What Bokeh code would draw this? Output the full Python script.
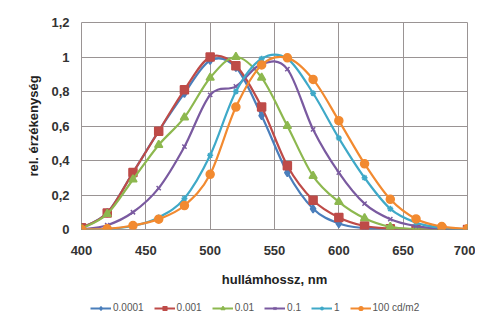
import numpy as np
from bokeh.plotting import figure
from bokeh.layouts import column
from bokeh.models import Legend, LegendItem, FixedTicker, ColumnDataSource
from bokeh.embed import file_html
from bokeh.resources import INLINE

# ---- data ----
wavelength = [400, 420, 440, 460, 480, 500, 520, 540, 560, 580, 600, 620, 640, 660, 680, 700]
s_00001 = [0.01, 0.097, 0.33, 0.57, 0.79, 0.98, 0.94, 0.66, 0.33, 0.12, 0.035, 0.008, 0.002, 0.0, 0.0, 0.0]
s_0001 = [0.01, 0.095, 0.33, 0.57, 0.81, 1.0, 0.95, 0.71, 0.37, 0.17, 0.07, 0.02, 0.005, 0.001, 0.0, 0.0]
s_001 = [0.005, 0.09, 0.29, 0.49, 0.65, 0.88, 1.0, 0.88, 0.60, 0.31, 0.16, 0.065, 0.015, 0.003, 0.0, 0.0]
s_01 = [0.0, 0.025, 0.10, 0.24, 0.48, 0.78, 0.83, 0.96, 0.93, 0.58, 0.33, 0.15, 0.06, 0.02, 0.005, 0.0]
s_1 = [0.0, 0.003, 0.02, 0.07, 0.18, 0.43, 0.80, 0.99, 0.99, 0.79, 0.53, 0.30, 0.12, 0.04, 0.01, 0.002]
s_100 = [0.0, 0.004, 0.023, 0.06, 0.139, 0.32, 0.71, 0.954, 0.995, 0.87, 0.631, 0.381, 0.175, 0.061, 0.017, 0.004]

series_names = ["0.0001", "0.001", "0.01", "0.1", "1", "100 cd/m2"]
series_values = [s_00001, s_0001, s_001, s_01, s_1, s_100]
colors = ["#4a7ebb", "#be4b48", "#8db84f", "#7a5aa0", "#3fa9c8", "#f28a30"]
markers = ["diamond", "square", "triangle", "x", "asterisk", "circle"]
marker_sizes = [8, 8, 8, 6, 6, 8]

x_ticks = [400, 450, 500, 550, 600, 650, 700]
y_ticks = [0, 0.2, 0.4, 0.6, 0.8, 1.0, 1.2]
y_tick_labels = ["0", "0,2", "0,4", "0,6", "0,8", "1", "1,2"]

FONT = "Liberation Sans"
GRID = "#9a9494"


def smooth_segments(xs, ys):
    """Bezier control points for a smoothed line through the data points (rendering only)."""
    x = np.asarray(xs, dtype=float)
    y = np.asarray(ys, dtype=float)
    xp = np.concatenate([[x[0]], x, [x[-1]]])
    yp = np.concatenate([[y[0]], y, [y[-1]]])
    n = len(x)
    i = np.arange(n - 1)
    return dict(
        x0=x[:-1], y0=y[:-1], x1=x[1:], y1=y[1:],
        cx0=x[:-1] + (xp[i + 2] - xp[i]) / 6.0,
        cy0=y[:-1] + (yp[i + 2] - yp[i]) / 6.0,
        cx1=x[1:] - (xp[i + 3] - xp[i + 1]) / 6.0,
        cy1=y[1:] - (yp[i + 3] - yp[i + 1]) / 6.0,
    )


p = figure(width=475, height=290, x_range=(400, 700), y_range=(0, 1.2),
           output_backend="svg", toolbar_location=None,
           min_border_left=81, min_border_right=8, min_border_top=22, min_border_bottom=61)
p.background_fill_color = "white"
p.border_fill_color = "white"
p.outline_line_color = GRID
p.outline_line_width = 1

p.xaxis.ticker = FixedTicker(ticks=x_ticks)
p.yaxis.ticker = FixedTicker(ticks=y_ticks)
p.yaxis.major_label_overrides = {t: l for t, l in zip(y_ticks, y_tick_labels)}

for ax in (p.xaxis[0], p.yaxis[0]):
    ax.axis_line_color = None
    ax.major_tick_line_color = None
    ax.minor_tick_line_color = None
    ax.major_tick_out = 0
    ax.major_tick_in = 0
    ax.major_label_text_font = FONT
    ax.major_label_text_font_style = "bold"
    ax.major_label_text_font_size = "13px"
    ax.major_label_text_color = "#333333"
    ax.axis_label_text_font = FONT
    ax.axis_label_text_font_style = "bold"
    ax.axis_label_text_font_size = "13px"
    ax.axis_label_text_color = "#222222"

p.xaxis.axis_label = "hullámhossz, nm"
p.yaxis.axis_label = "rel. érzékenység"
p.xaxis.major_label_standoff = 16
p.xaxis.axis_label_standoff = 14
p.yaxis.major_label_standoff = 12
p.yaxis.axis_label_standoff = 7

p.xgrid.grid_line_color = GRID
p.ygrid.grid_line_color = GRID
p.xgrid.grid_line_width = 1
p.ygrid.grid_line_width = 1

for vals, c, m, ms in zip(series_values, colors, markers, marker_sizes):
    src = ColumnDataSource(smooth_segments(wavelength, vals))
    p.bezier(x0="x0", y0="y0", x1="x1", y1="y1", cx0="cx0", cy0="cy0", cx1="cx1", cy1="cy1",
             source=src, line_color=c, line_width=2.2)
    p.scatter(wavelength, vals, marker=m, size=ms, fill_color=c, line_color=c, line_width=1.5)

# ---- legend strip below the chart (its series lie outside this strip's visible range) ----
lg = figure(width=475, height=24, x_range=(0, 1), y_range=(0, 1),
            output_backend="svg", toolbar_location=None,
            x_axis_type=None, y_axis_type=None,
            min_border_left=0, min_border_right=0, min_border_top=0, min_border_bottom=0)
lg.outline_line_color = None
lg.grid.visible = False
lg.background_fill_color = "white"
lg.border_fill_color = "white"

items = []
for name, vals, c, m, ms in zip(series_names, series_values, colors, markers, marker_sizes):
    ln = lg.line(wavelength, vals, line_color=c, line_width=2)
    sc = lg.scatter(wavelength, vals, marker=m, size=ms - 1, fill_color=c, line_color=c, line_width=1.2)
    items.append(LegendItem(label=name, renderers=[ln, sc]))

legend = Legend(items=items, orientation="horizontal", location=(9, 1),
                glyph_width=21, glyph_height=10, label_standoff=2, spacing=10,
                padding=0, margin=0, label_height=10, label_width=1,
                label_text_font=FONT, label_text_font_size="10px", label_text_color="#555555",
                border_line_color=None, background_fill_alpha=0)
lg.add_layout(legend, "center")

layout = column(p, lg, spacing=0)
open("out.html", "w").write(file_html(layout, INLINE))
